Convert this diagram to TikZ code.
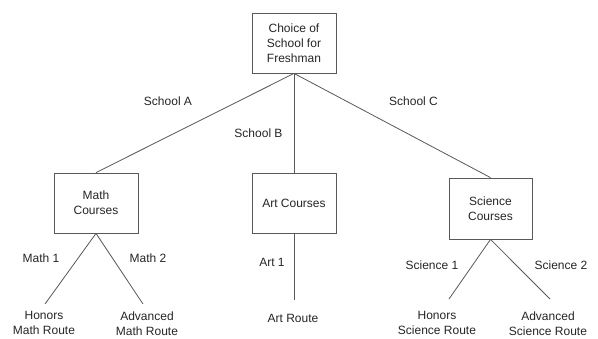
\documentclass[tikz,border=0pt]{standalone}
\usepackage{fontspec}
\setmainfont{Liberation Sans}
\begin{document}
\begin{tikzpicture}[x=1pt,y=-1pt,
  txt/.style={text=black!85, font=\fontsize{12}{15}\selectfont, align=center, inner sep=0pt},
  box/.style={txt, draw=black!65, line width=0.8pt, rectangle, minimum width=84pt, minimum height=60pt},
  edge/.style={draw=black!65, line width=0.8pt}]
\useasboundingbox[fill=white] (0,0) rectangle (598,338);

% decision boxes
\node[box] (root) at (294,43) {Choice of\\School for\\Freshman};
\node[box] (math) at (96,203) {Math\\Courses};
\node[box] (art) at (294,203) {Art Courses};
\node[box, minimum width=83pt, minimum height=61pt] (sci) at (490.5,208.5) {Science\\Courses};

% outcome texts
\node[txt] (hm) at (44,322.5) {Honors\\Math Route};
\node[txt] (am) at (147,324) {Advanced\\Math Route};
\node[txt] (ar) at (293,318) {Art Route};
\node[txt] (hs) at (437,322.5) {Honors\\Science Route};
\node[txt] (as) at (548,324) {Advanced\\Science Route};

% free ends of the lower branches
\coordinate (hmEnd) at (45,304);
\coordinate (amEnd) at (143,304);
\coordinate (arEnd) at (294,300);
\coordinate (hsEnd) at (449,299);
\coordinate (asEnd) at (550,299);

% branches
\draw[edge] (root.south) -- (math.north);
\draw[edge] (root.south) -- (art.north);
\draw[edge] (root.south) -- (sci.north);
\draw[edge] (math.south) -- (hmEnd);
\draw[edge] (math.south) -- (amEnd);
\draw[edge] (art.south) -- (arEnd);
\draw[edge] (sci.south) -- (hsEnd);
\draw[edge] (sci.south) -- (asEnd);

% branch labels
\node[txt] (la) at (168,101) {School A};
\node[txt] (lb) at (258.5,133) {School B};
\node[txt] (lc) at (413.5,101) {School C};
\node[txt] (l1) at (41,258) {Math 1};
\node[txt] (l2) at (148,258) {Math 2};
\node[txt] (l3) at (272,262) {Art 1};
\node[txt] (l4) at (432,265) {Science 1};
\node[txt] (l5) at (561,265) {Science 2};
\end{tikzpicture}
\end{document}
